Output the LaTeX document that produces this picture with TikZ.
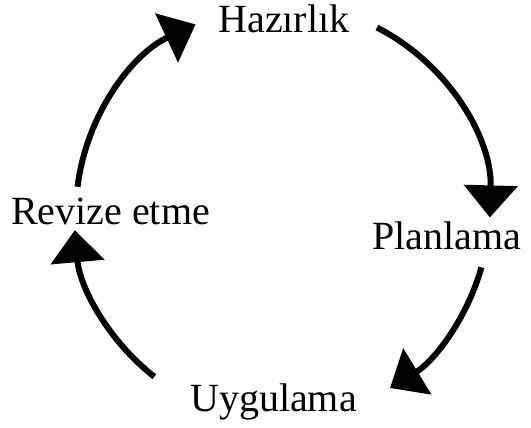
\documentclass[tikz,border=0pt]{standalone}
\usepackage{fontspec}
\setmainfont{Liberation Serif}
\usetikzlibrary{arrows.meta}
\begin{document}
\begin{tikzpicture}[x=1pt,y=1pt,
  lbl/.style={inner sep=0pt,anchor=base,font=\fontsize{40}{44}\selectfont},
  cyc/.style={line width=6pt,-{Triangle[length=32pt,width=53pt]}}]
\useasboundingbox (0,0) rectangle (531,428);
\coordinate (C) at (283,216);
\node[lbl] (haz) at (284,395) {Hazırlık};
\node[lbl] (plan) at (446.5,178) {Planlama};
\node[lbl] (uyg) at (273.5,16) {Uygulama};
\node[lbl] (rev) at (110.5,203) {Revize etme};
\draw[cyc] (C) ++(63:207) arc[start angle=63,end angle=-1.5,radius=207];
\draw[cyc] (C) ++(-15.6:206) arc[start angle=-15.6,end angle=-58.7,radius=206];
\draw[cyc] (C) ++(-128:209) arc[start angle=-128,end angle=-175,radius=209];
\draw[cyc] (C) ++(173:207) arc[start angle=173,end angle=115,radius=207];
\end{tikzpicture}
\end{document}
